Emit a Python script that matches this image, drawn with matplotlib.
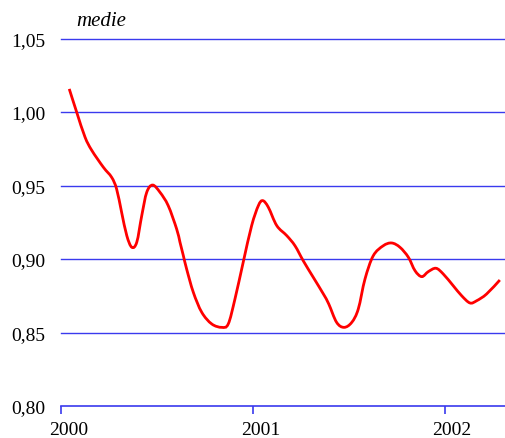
import matplotlib.pyplot as plt
from matplotlib.path import Path
from matplotlib.patches import PathPatch
from matplotlib.transforms import ScaledTranslation

# data (time in years, value of the index)
years = [2000.043, 2000.082, 2000.125, 2000.160, 2000.221, 2000.264, 2000.290,
         2000.316, 2000.343, 2000.369, 2000.395, 2000.421, 2000.447, 2000.478,
         2000.516, 2000.559, 2000.603, 2000.620, 2000.638, 2000.655, 2000.690,
         2000.734, 2000.786, 2000.838, 2000.872, 2000.907, 2000.950, 2000.994,
         2001.029, 2001.052, 2001.081, 2001.125, 2001.177, 2001.220, 2001.263,
         2001.315, 2001.368, 2001.396, 2001.437, 2001.476, 2001.516, 2001.550,
         2001.585, 2001.628, 2001.680, 2001.724, 2001.767, 2001.811, 2001.846,
         2001.881, 2001.915, 2001.955, 2001.993, 2002.045, 2002.089, 2002.132,
         2002.167, 2002.219, 2002.288]
values = [1.0157, 0.9998, 0.9830, 0.9740, 0.9624, 0.9556, 0.9476,
          0.9318, 0.9159, 0.9080, 0.9114, 0.9295, 0.9454, 0.9503,
          0.9454, 0.9363, 0.9204, 0.9116, 0.9022, 0.8932, 0.8773,
          0.8637, 0.8558, 0.8535, 0.8558, 0.8728, 0.8978, 0.9227,
          0.9363, 0.9397, 0.9352, 0.9227, 0.9159, 0.9090, 0.8988,
          0.8876, 0.8762, 0.8694, 0.8569, 0.8535, 0.8569, 0.8660,
          0.8864, 0.9022, 0.9090, 0.9109, 0.9080, 0.9012, 0.8920,
          0.8880, 0.8914, 0.8937, 0.8898, 0.8818, 0.8750, 0.8701,
          0.8716, 0.8762, 0.8857]

y_ticks = [0.80, 0.85, 0.90, 0.95, 1.00, 1.05]
y_labels = ['0,80', '0,85', '0,90', '0,95', '1,00', '1,05']
x_ticks = [2000, 2001, 2002]
x_labels = ['2000', '2001', '2002']

plt.rcParams['font.family'] = ['Liberation Serif', 'DejaVu Serif']

fig = plt.figure(figsize=(5.06, 4.39), dpi=100)
ax = fig.add_axes([61 / 506, 32 / 439, 445 / 506, 367.5 / 439])

grid_col = '#3a3aee'
for yv in y_ticks[1:]:
    ax.axhline(yv, color=grid_col, lw=1.0, clip_on=False, zorder=1)

# smooth line through the points (catmull-rom -> bezier segments)
verts = [(years[0], values[0])]
codes = [Path.MOVETO]
n = len(years)
for i in range(n - 1):
    x0, y0 = years[max(i - 1, 0)], values[max(i - 1, 0)]
    x1, y1 = years[i], values[i]
    x2, y2 = years[i + 1], values[i + 1]
    x3, y3 = years[min(i + 2, n - 1)], values[min(i + 2, n - 1)]
    c1 = (x1 + (x2 - x0) / 6, y1 + (y2 - y0) / 6)
    c2 = (x2 - (x3 - x1) / 6, y2 - (y3 - y1) / 6)
    verts += [c1, c2, (x2, y2)]
    codes += [Path.CURVE4] * 3
ax.add_patch(PathPatch(Path(verts, codes), facecolor='none',
                       edgecolor='#ff0000', lw=2.0, zorder=3))

ax.set_xlim(2000, 2000 + 445 / 191.8)
ax.set_ylim(0.80, 1.05)

for side in ['left', 'right', 'top']:
    ax.spines[side].set_visible(False)
ax.spines['bottom'].set_color(grid_col)
ax.spines['bottom'].set_linewidth(1.2)

ax.set_yticks(y_ticks)
ax.set_yticklabels(y_labels)
ax.set_xticks(x_ticks)
ax.set_xticklabels(x_labels)
ax.tick_params(axis='y', length=0, pad=11.5, labelsize=14)
ax.tick_params(axis='x', length=6, width=1.2, color=grid_col, direction='out',
               pad=5, labelsize=14)

# year labels sit a bit to the right of their tick
shift = ScaledTranslation(7.5 / 100, 0, fig.dpi_scale_trans)
for lab in ax.get_xticklabels():
    lab.set_transform(lab.get_transform() + shift)

fig.text(76 / 506, 1 - 22 / 439, 'medie', fontsize=15, style='italic',
         ha='left', va='center')

fig.savefig('out.png', dpi=100)
